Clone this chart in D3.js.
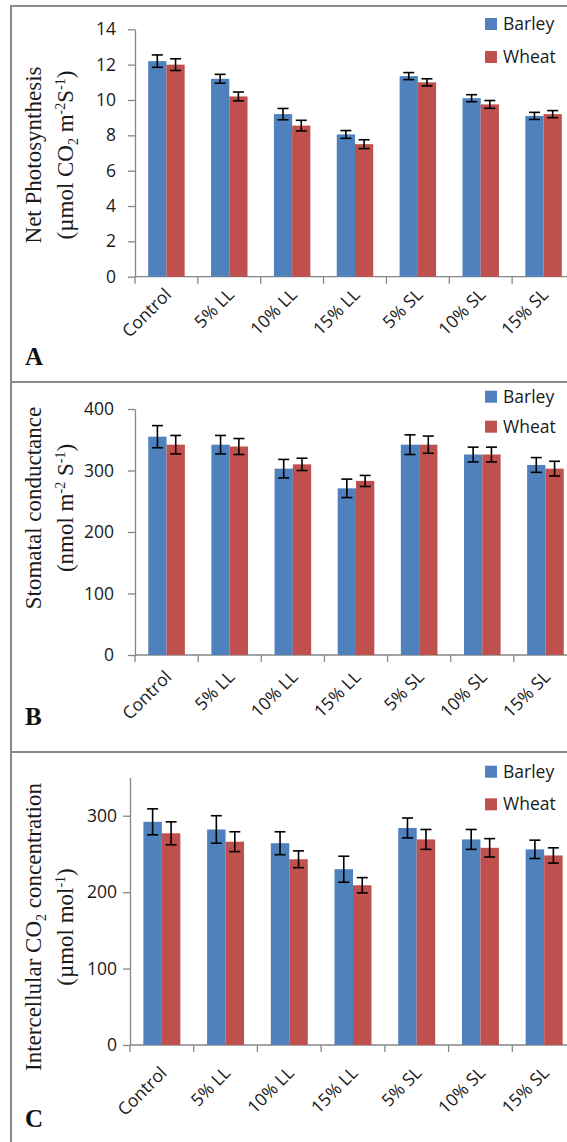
<!DOCTYPE html>
<html lang="en">
<head>
  <meta charset="UTF-8">
  <title>Photosynthesis panels</title>
  <style>
    body {
      margin: 0;
      background-color: white;
    }
    .tick text, .xlabel, .legend text {
      font-family: "Open Sans", sans-serif;
      font-size: 17.5px;
      fill: #1a1a1a;
    }
    .ytitle {
      font-family: "Liberation Serif", "Times New Roman", serif;
      font-size: 23px;
      fill: #1a1a1a;
    }
    .letter {
      font-family: "Liberation Serif", "Times New Roman", serif;
      font-size: 25px;
      font-weight: bold;
      fill: #111;
    }
  </style>
</head>
<body>
  <svg id="chart" width="567" height="1142"></svg>

  <script src="https://d3js.org/d3.v7.min.js"></script>
  <script>
    var categories = ["Control", "5% LL", "10% LL", "15% LL", "5% SL", "10% SL", "15% SL"];
    var seriesNames = ["Barley", "Wheat"];
    var colors = ["#4F81BD", "#C0504D"];

    // A - net photosynthesis
    var photoBarley = [12.2, 11.2, 9.2, 8.05, 11.35, 10.1, 9.1];
    var photoWheat = [12.0, 10.2, 8.55, 7.5, 11.0, 9.75, 9.2];
    var photoBarleyErr = [0.35, 0.25, 0.32, 0.22, 0.2, 0.2, 0.2];
    var photoWheatErr = [0.33, 0.25, 0.3, 0.25, 0.2, 0.22, 0.2];
    var photoTicks = [0, 2, 4, 6, 8, 10, 12, 14];

    // B - stomatal conductance
    var condBarley = [355, 342, 303, 271, 342, 326, 309];
    var condWheat = [342, 339, 310, 283, 342, 326, 303];
    var condBarleyErr = [18, 15, 15, 15, 16, 12, 12];
    var condWheatErr = [15, 13, 10, 9, 14, 12, 12];
    var condTicks = [0, 100, 200, 300, 400];

    // C - intercellular CO2
    var ciBarley = [292, 282, 264, 230, 284, 269, 256];
    var ciWheat = [277, 266, 243, 209, 269, 258, 248];
    var ciBarleyErr = [17, 18, 15, 17, 13, 13, 12];
    var ciWheatErr = [15, 13, 11, 10, 13, 12, 10];
    var ciTicks = [0, 100, 200, 300];

    var svg = d3.select("#chart");

    var panels = [
      {
        letter: "A", frameTop: 6, frameH: 376,
        left: 135, right: 575, top: 29.3, bottom: 276.7, max: 14, ticks: photoTicks, tickPad: 12,
        values: [photoBarley, photoWheat], errs: [photoBarleyErr, photoWheatErr],
        title1: [["Net Photosynthesis"]],
        title2: [["(µmol CO"], ["2", "sub"], [" m"], ["-2", "sup"], ["S"], ["-1", "sup"], [")"]],
        t1x: 41, t2x: 73, tcy: 155, letterY: 365, legendY: 24, legendGap: 33, labelDy: 19
      },
      {
        letter: "B", frameTop: 382, frameH: 370,
        left: 135, right: 577, top: 409, bottom: 655, max: 400, ticks: condTicks, tickPad: 14,
        values: [condBarley, condWheat], errs: [condBarleyErr, condWheatErr],
        title1: [["Stomatal conductance"]],
        title2: [["(nmol m"], ["-2", "sup"], [" S"], ["-1", "sup"], [")"]],
        t1x: 41, t2x: 73, tcy: 508, letterY: 725, legendY: 396.7, legendGap: 30, labelDy: 23
      },
      {
        letter: "C", frameTop: 752, frameH: 420,
        left: 130, right: 576, top: 777.5, bottom: 1045, max: 350, ticks: ciTicks, tickPad: 6,
        values: [ciBarley, ciWheat], errs: [ciBarleyErr, ciWheatErr],
        title1: [["Intercellular CO"], ["2", "sub"], [" concentration"]],
        title2: [["(µmol mol"], ["-1", "sup"], [")"]],
        t1x: 41, t2x: 73, tcy: 927, letterY: 1127, legendY: 771.7, legendGap: 32.6, labelDy: 29
      }
    ];

    // text with sub/superscripts; the shift is undone on the following part
    function addRich(textSel, parts) {
      var back = 0;
      parts.forEach(function(p) {
        var t = textSel.append("tspan").text(p[0]);
        var shift = 0;
        if (p[1] === "sup") {
          t.attr("font-size", "14px");
          shift = -8;
        } else if (p[1] === "sub") {
          t.attr("font-size", "14px");
          shift = 5;
        }
        if (shift || back) t.attr("dy", shift + back);
        back = -shift;
      });
    }

    function drawPanel(p) {
      var g = svg.append("g");

      g.append("rect")
        .attr("x", 11).attr("y", p.frameTop)
        .attr("width", 620).attr("height", p.frameH)
        .attr("fill", "white")
        .attr("stroke", "#8a8a8a")
        .attr("stroke-width", 2);

      var x = d3.scaleBand().domain(categories).range([p.left, p.right]);
      var xs = d3.scaleBand().domain(seriesNames)
        .range([x.bandwidth() * 0.21, x.bandwidth() * 0.79]);
      var y = d3.scaleLinear().domain([0, p.max]).range([p.bottom, p.top]);

      // y axis
      var yAxis = g.append("g")
        .attr("transform", "translate(" + p.left + ",0)")
        .call(d3.axisLeft(y).tickValues(p.ticks).tickSize(7).tickSizeOuter(0).tickPadding(p.tickPad));
      yAxis.selectAll("path, line").attr("stroke", "#868686").attr("stroke-width", 1.3);
      yAxis.attr("font-size", null).attr("font-family", null);

      // x axis line and category dividers
      g.append("line")
        .attr("x1", p.left).attr("x2", p.right)
        .attr("y1", y(0)).attr("y2", y(0))
        .attr("stroke", "#868686").attr("stroke-width", 1.3);

      var edges = categories.map(function(c) { return x(c); }).concat([p.right]);
      g.selectAll(".xtick")
        .data(edges)
        .enter().append("line")
        .attr("x1", function(d) { return d; })
        .attr("x2", function(d) { return d; })
        .attr("y1", y(0)).attr("y2", y(0) + 7)
        .attr("stroke", "#868686").attr("stroke-width", 1.3);

      g.selectAll(".xlabel")
        .data(categories)
        .enter().append("text")
        .attr("class", "xlabel")
        .attr("text-anchor", "end")
        .attr("transform", function(d) {
          return "translate(" + (x(d) + x.bandwidth() / 2 + 6) + "," + (y(0) + p.labelDy) + ") rotate(-45)";
        })
        .text(function(d) { return d; });

      // bars and error bars
      seriesNames.forEach(function(s, si) {
        var vals = p.values[si];
        var errs = p.errs[si];

        g.selectAll(".bar" + si)
          .data(categories)
          .enter().append("rect")
          .attr("x", function(d) { return x(d) + xs(s); })
          .attr("y", function(d, i) { return y(vals[i]); })
          .attr("width", xs.bandwidth())
          .attr("height", function(d, i) { return y(0) - y(vals[i]); })
          .attr("fill", colors[si]);

        var eb = g.selectAll(".err" + si)
          .data(categories)
          .enter().append("g")
          .attr("stroke", "#000")
          .attr("stroke-width", 1.6);

        function cx(d) { return x(d) + xs(s) + xs.bandwidth() / 2; }

        eb.append("line")
          .attr("x1", cx).attr("x2", cx)
          .attr("y1", function(d, i) { return y(vals[i] + errs[i]); })
          .attr("y2", function(d, i) { return y(vals[i] - errs[i]); });
        eb.append("line")
          .attr("x1", function(d) { return cx(d) - 5.5; })
          .attr("x2", function(d) { return cx(d) + 5.5; })
          .attr("y1", function(d, i) { return y(vals[i] + errs[i]); })
          .attr("y2", function(d, i) { return y(vals[i] + errs[i]); });
        eb.append("line")
          .attr("x1", function(d) { return cx(d) - 5.5; })
          .attr("x2", function(d) { return cx(d) + 5.5; })
          .attr("y1", function(d, i) { return y(vals[i] - errs[i]); })
          .attr("y2", function(d, i) { return y(vals[i] - errs[i]); });
      });

      // legend
      var leg = g.append("g").attr("class", "legend");
      seriesNames.forEach(function(s, si) {
        var ly = p.legendY + si * p.legendGap;
        leg.append("rect")
          .attr("x", 485).attr("y", ly - 6)
          .attr("width", 12).attr("height", 12)
          .attr("fill", colors[si]);
        leg.append("text")
          .attr("x", 503).attr("y", ly + 6)
          .text(s);
      });

      // axis titles
      var t1 = g.append("text")
        .attr("class", "ytitle")
        .attr("text-anchor", "middle")
        .attr("transform", "translate(" + p.t1x + "," + p.tcy + ") rotate(-90)");
      addRich(t1, p.title1);
      var t2 = g.append("text")
        .attr("class", "ytitle")
        .attr("text-anchor", "middle")
        .attr("transform", "translate(" + p.t2x + "," + p.tcy + ") rotate(-90)");
      addRich(t2, p.title2);

      g.append("text")
        .attr("class", "letter")
        .attr("x", 25).attr("y", p.letterY)
        .text(p.letter);
    }

    panels.forEach(drawPanel);
  </script>
</body>
</html>
